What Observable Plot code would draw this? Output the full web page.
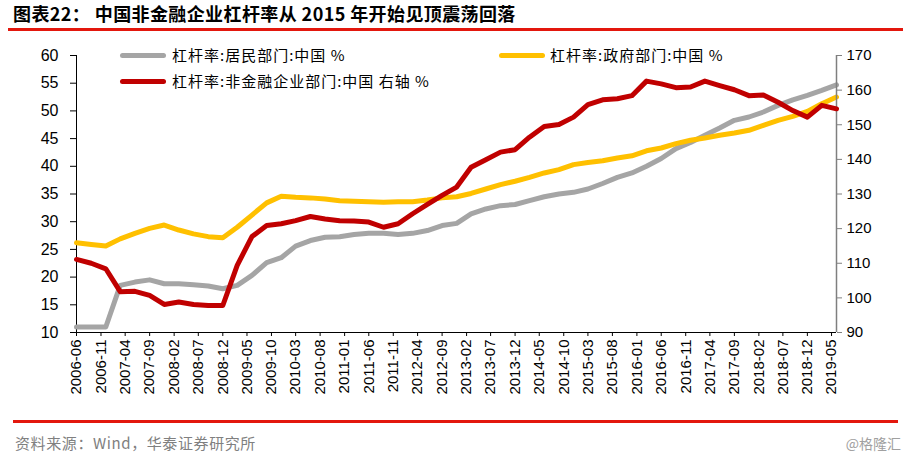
<!DOCTYPE html>
<html><head><meta charset="utf-8">
<script src="https://cdn.jsdelivr.net/npm/d3@7"></script>
<script src="https://cdn.jsdelivr.net/npm/@observablehq/plot@0.6"></script>
<style>
body{margin:0;background:#fff;width:910px;height:457px;position:relative;overflow:hidden;font-family:"Noto Sans CJK SC",sans-serif;}
#title{position:absolute;left:13px;top:1px;font-size:18px;letter-spacing:0.4px;font-weight:700;line-height:24px;color:#000;white-space:nowrap;}
#rule1{position:absolute;left:8px;width:895px;top:28px;height:3px;background:#E3170D;}
.layer{position:absolute;left:0;top:40px;}
.leg{position:absolute;font-size:15px;letter-spacing:1px;line-height:20px;white-space:nowrap;color:#000;}
.sw{position:absolute;height:5px;border-radius:3px;width:46px;}
#rule2{position:absolute;left:13px;width:885px;top:420px;height:3px;background:#E3170D;}
#src{position:absolute;left:15px;top:432px;font-size:15px;letter-spacing:0.6px;line-height:22px;color:#808080;white-space:nowrap;}
#wm{position:absolute;right:9px;top:432px;font-size:14px;line-height:22px;color:#a0a0a0;white-space:nowrap;}
</style></head>
<body>
<div id="title">图表22： 中国非金融企业杠杆率从 2015 年开始见顶震荡回落</div>
<div id="rule1"></div>
<div id="c1" class="layer"></div>
<div id="c2" class="layer"></div>
<div class="sw" style="left:120px;top:53px;background:#A5A5A5"></div>
<div class="leg" style="left:172px;top:45px">杠杆率:居民部门:中国 %</div>
<div class="sw" style="left:499px;top:53px;background:#FFC000"></div>
<div class="leg" style="left:550px;top:45px">杠杆率:政府部门:中国 %</div>
<div class="sw" style="left:120px;top:79px;background:#C00000"></div>
<div class="leg" style="left:172px;top:71px">杠杆率:非金融企业部门:中国 右轴 %</div>
<div id="rule2"></div>
<div id="src">资料来源：Wind，华泰证券研究所</div>
<div id="wm">@格隆汇</div>
<script>
const quarters = [
 "2006-06","2006-09","2006-12",
 "2007-03","2007-06","2007-09","2007-12",
 "2008-03","2008-06","2008-09","2008-12",
 "2009-03","2009-06","2009-09","2009-12",
 "2010-03","2010-06","2010-09","2010-12",
 "2011-03","2011-06","2011-09","2011-12",
 "2012-03","2012-06","2012-09","2012-12",
 "2013-03","2013-06","2013-09","2013-12",
 "2014-03","2014-06","2014-09","2014-12",
 "2015-03","2015-06","2015-09","2015-12",
 "2016-03","2016-06","2016-09","2016-12",
 "2017-03","2017-06","2017-09","2017-12",
 "2018-03","2018-06","2018-09","2018-12",
 "2019-03","2019-06"];
// 杠杆率:居民部门:中国 % (left axis)
const household = [
 11.0,11.0,11.0,
 18.5,19.1,19.5,18.8,
 18.8,18.6,18.4,17.9,
 18.5,20.3,22.6,23.5,
 25.6,26.6,27.2,27.3,
 27.7,27.9,27.9,27.7,
 27.9,28.4,29.3,29.7,
 31.4,32.3,32.9,33.1,
 33.8,34.5,35.0,35.3,
 35.9,36.9,38.0,38.8,
 40.0,41.4,43.2,44.3,
 45.6,46.9,48.3,48.9,
 49.8,51.0,52.0,52.8,
 53.7,54.7];
// 杠杆率:政府部门:中国 % (left axis)
const government = [
 26.2,25.9,25.6,
 26.9,27.9,28.8,29.4,
 28.5,27.8,27.3,27.1,
 29.0,31.2,33.4,34.6,
 34.4,34.3,34.1,33.8,
 33.7,33.6,33.5,33.6,
 33.6,33.9,34.3,34.5,
 35.1,35.9,36.7,37.3,
 38.0,38.8,39.4,40.3,
 40.7,41.0,41.5,41.9,
 42.8,43.3,44.1,44.7,
 45.1,45.6,46.0,46.5,
 47.4,48.3,49.0,49.9,
 51.3,52.5];
// 杠杆率:非金融企业部门:中国 % (right axis)
const corporate = [
 111.1,110.0,108.4,
 101.8,101.9,100.7,98.1,
 98.8,98.1,97.8,97.8,
 109.4,117.7,120.9,121.4,
 122.3,123.5,122.8,122.3,
 122.2,121.9,120.4,121.4,
 124.3,127.0,129.6,132.0,
 137.7,139.9,142.1,142.8,
 146.4,149.5,150.1,152.2,
 155.8,157.2,157.5,158.4,
 162.6,161.8,160.7,160.9,
 162.6,161.3,160.1,158.4,
 158.6,156.5,154.1,152.2,
 155.6,154.6];
const xTickLabels = ["2006-06","2006-11","2007-04","2007-09","2008-02","2008-07","2008-12","2009-05","2009-10","2010-03","2010-08","2011-01","2011-06","2011-11","2012-04","2012-09","2013-02","2013-07","2013-12","2014-05","2014-10","2015-03","2015-08","2016-01","2016-06","2016-11","2017-04","2017-09","2018-02","2018-07","2018-12","2019-05"];
const leftTicks = [10,15,20,25,30,35,40,45,50,55,60];
const rightTicks = [90,100,110,120,130,140,150,160,170];

const parse = d3.utcParse("%Y-%m");
const fmt = d3.utcFormat("%Y-%m");
const rows = quarters.map((q,i)=>({date:parse(q), hh:household[i], gov:government[i], corp:corporate[i]}));
const xDomain = [parse(quarters[0]), parse(quarters[quarters.length-1])];
const base = {width:910, height:362, marginLeft:76, marginRight:74, marginTop:15, marginBottom:70,
  style:{fontFamily:'"Liberation Sans", Arial, sans-serif', fontSize:"15px", color:"#000", background:"transparent", overflow:"visible"}};

const c1 = Plot.plot({...base,
  x:{type:"utc", domain:xDomain},
  y:{domain:[10,60]},
  marks:[
    Plot.axisY(leftTicks, {anchor:"left", tickSize:6, tickPadding:12, fontSize:16, label:null, tickFormat:d=>d}),
    Plot.axisX(xTickLabels.map(parse), {anchor:"bottom", tickRotate:-90, tickSize:4, tickPadding:3, tickFormat:fmt, fontSize:15, label:null}),
    Plot.ruleX([xDomain[0]], {stroke:"#000", strokeWidth:1}),
    Plot.ruleY([10], {stroke:"#000", strokeWidth:1}),
    Plot.line(rows, {x:"date", y:"hh", stroke:"#A5A5A5", strokeWidth:5}),
    Plot.line(rows, {x:"date", y:"gov", stroke:"#FFC000", strokeWidth:5})
  ]});
document.getElementById("c1").append(c1);

const c2 = Plot.plot({...base,
  x:{type:"utc", domain:xDomain, axis:null},
  y:{domain:[90,170]},
  marks:[
    Plot.axisY(rightTicks, {anchor:"right", tickSize:5, tickPadding:5, fontSize:15, label:null, stroke:"#7f7f7f", tickFormat:d=>d}),
    Plot.ruleX([xDomain[1]], {stroke:"#7f7f7f", strokeWidth:1.5}),
    Plot.line(rows, {x:"date", y:"corp", stroke:"#C00000", strokeWidth:5})
  ]});
document.getElementById("c2").append(c2);
</script>
</body></html>
